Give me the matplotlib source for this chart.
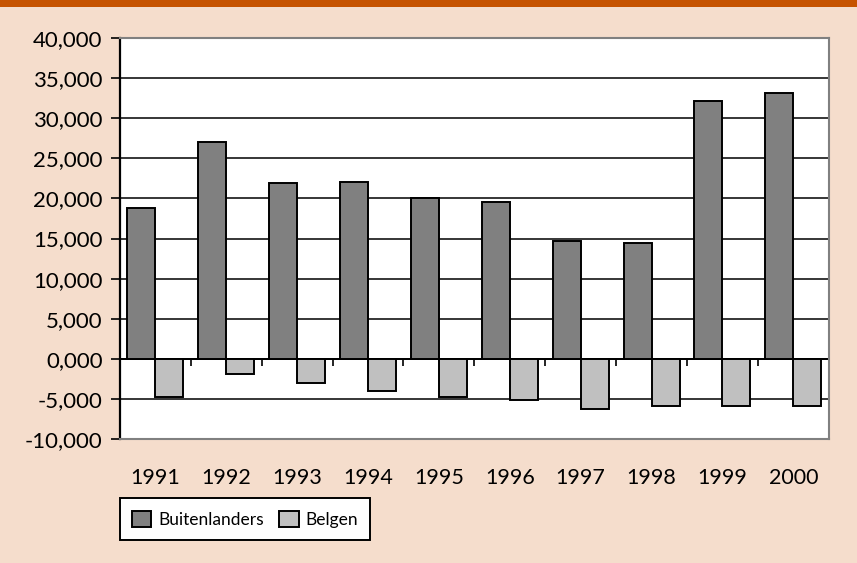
import numpy as np
import matplotlib
matplotlib.use("Agg")
import matplotlib.pyplot as plt
from matplotlib.patches import Rectangle

# migration balance per year (persons)
years = ["1991", "1992", "1993", "1994", "1995", "1996", "1997", "1998", "1999", "2000"]
buitenlanders = [18800, 27000, 21900, 22000, 20000, 19500, 14700, 14500, 32100, 33100]
belgen = [-4800, -1900, -3000, -3950, -4700, -5100, -6300, -5900, -5900, -5900]
series_names = ["Buitenlanders", "Belgen"]
yticks = np.arange(-10000, 40001, 5000)

BG = "#F5DDCC"
plt.rcParams["font.family"] = ["Lato", "DejaVu Sans"]

fig = plt.figure(figsize=(8.57, 5.63), dpi=100, facecolor=BG)
fig.patches.append(Rectangle((0, 1 - 7 / 563), 1, 7 / 563, transform=fig.transFigure,
                             facecolor="#C65300", edgecolor="none"))
ax = fig.add_axes([0.140, 0.2202, 0.827, 0.7123])
ax.set_facecolor("white")

x = np.arange(len(years))
w = 0.395
ax.bar(x - w / 2, buitenlanders, w, color="#808080", edgecolor="black", lw=1.4,
       label=series_names[0], zorder=3)
ax.bar(x + w / 2, belgen, w, color="#C0C0C0", edgecolor="black", lw=1.4,
       label=series_names[1], zorder=3)

ax.set_xlim(-0.5, len(years) - 0.5)
ax.set_ylim(yticks[0], yticks[-1])
ax.set_yticks(yticks)
ax.set_yticklabels([f"{v / 1000:.3f}".replace(".", ",") for v in yticks], fontsize=16)
ax.yaxis.grid(True, color="black", lw=1.1, zorder=1)
ax.tick_params(axis="y", direction="out", length=6.5, width=1.2, pad=6)

ax.set_xticks(x)
ax.set_xticklabels(years, fontsize=15.5)
ax.tick_params(axis="x", length=0, pad=21)

for side in ["top", "right", "bottom"]:
    ax.spines[side].set_color("#808080")
    ax.spines[side].set_linewidth(1.5)
ax.spines["left"].set_color("black")
ax.spines["left"].set_linewidth(1.6)

# category axis drawn at zero with ticks between categories
zaxis = ax.secondary_xaxis(0, transform=ax.transData)
zaxis.set_xticks(np.arange(len(years) + 1) - 0.5)
zaxis.set_xticklabels([])
zaxis.tick_params(direction="out", length=5, width=1.2, color="black")
zaxis.spines["bottom"].set_color("black")
zaxis.spines["bottom"].set_linewidth(1.4)

leg = fig.legend(loc="lower left", bbox_to_anchor=(0.140, 0.041), ncol=2,
                 fontsize=12.5, frameon=True, fancybox=False, borderaxespad=0,
                 handlelength=1.1, handleheight=1.1, handletextpad=0.4,
                 columnspacing=0.9, borderpad=0.7)
leg.get_frame().set_edgecolor("black")
leg.get_frame().set_linewidth(1.4)
leg.get_frame().set_facecolor("white")
leg.get_frame().set_alpha(1)

fig.savefig("out.png", dpi=100, facecolor=BG)
